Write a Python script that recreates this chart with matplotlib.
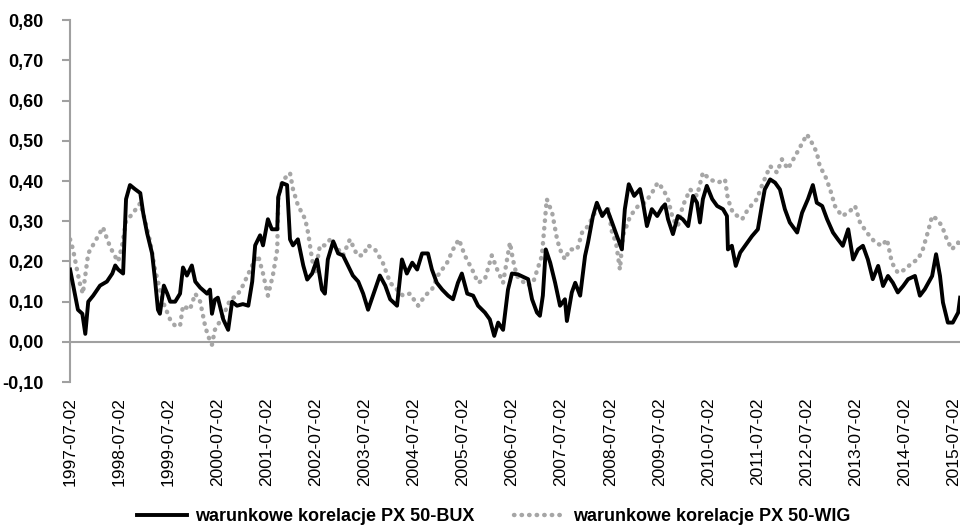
import matplotlib
matplotlib.use('Agg')
import matplotlib.pyplot as plt
from matplotlib.lines import Line2D
import numpy as np
import pandas as pd

plt.rcParams['font.family'] = ['Liberation Sans', 'DejaVu Sans']

# years elapsed since 1997-07-02
bux_t = [0.00, 0.16, 0.25, 0.31, 0.37, 0.47, 0.61, 0.75, 0.86, 0.92, 0.98, 1.08, 1.14, 1.22, 1.32,
         1.43, 1.49, 1.57, 1.67, 1.73, 1.79, 1.83, 1.91, 1.98, 2.04, 2.14, 2.24, 2.30, 2.38, 2.48,
         2.55, 2.65, 2.79, 2.85, 2.89, 2.95, 3.01, 3.12, 3.22, 3.30, 3.40, 3.52, 3.63, 3.71, 3.77,
         3.87, 3.93, 4.03, 4.11, 4.22, 4.24, 4.32, 4.42, 4.48, 4.54, 4.64, 4.75, 4.83, 4.93, 5.03,
         5.13, 5.19, 5.25, 5.36, 5.46, 5.56, 5.66, 5.76, 5.87, 5.97, 6.07, 6.21, 6.31, 6.42, 6.52,
         6.66, 6.76, 6.86, 6.97, 7.07, 7.17, 7.29, 7.37, 7.47, 7.58, 7.70, 7.80, 7.90, 7.98, 8.09,
         8.21, 8.31, 8.45, 8.55, 8.64, 8.72, 8.82, 8.92, 9.00, 9.12, 9.33, 9.41, 9.51, 9.57, 9.63,
         9.69, 9.78, 9.88, 9.98, 10.08, 10.12, 10.22, 10.29, 10.39, 10.49, 10.55, 10.65, 10.73,
         10.84, 10.94, 11.04, 11.14, 11.24, 11.30, 11.38, 11.49, 11.61, 11.67, 11.75, 11.85, 11.96,
         12.06, 12.12, 12.18, 12.28, 12.38, 12.48, 12.59, 12.69, 12.77, 12.83, 12.89, 12.97, 13.08,
         13.18, 13.30, 13.38, 13.40, 13.48, 13.56, 13.65, 13.75, 13.89, 14.01, 14.09, 14.15, 14.26,
         14.36, 14.46, 14.56, 14.66, 14.81, 14.91, 15.03, 15.13, 15.21, 15.32, 15.42, 15.54, 15.64,
         15.74, 15.85, 15.95, 16.05, 16.15, 16.25, 16.35, 16.46, 16.56, 16.66, 16.76, 16.86, 16.97,
         17.07, 17.21, 17.31, 17.41, 17.56, 17.64, 17.72, 17.78, 17.88, 17.98, 18.09, 18.13]
bux = [0.18, 0.08, 0.07, 0.02, 0.10, 0.115, 0.14, 0.15, 0.17, 0.19, 0.18, 0.17, 0.355, 0.39, 0.38,
       0.37, 0.32, 0.27, 0.22, 0.155, 0.08, 0.07, 0.14, 0.12, 0.10, 0.10, 0.12, 0.185, 0.165, 0.19,
       0.15, 0.135, 0.12, 0.13, 0.07, 0.105, 0.11, 0.056, 0.03, 0.10, 0.09, 0.094, 0.09, 0.15, 0.24,
       0.265, 0.24, 0.305, 0.28, 0.28, 0.36, 0.395, 0.39, 0.255, 0.24, 0.255, 0.19, 0.155, 0.17, 0.205,
       0.13, 0.12, 0.205, 0.25, 0.22, 0.215, 0.19, 0.165, 0.15, 0.12, 0.08, 0.13, 0.165, 0.14, 0.106,
       0.09, 0.205, 0.17, 0.197, 0.18, 0.22, 0.22, 0.18, 0.147, 0.13, 0.115, 0.106, 0.147, 0.17, 0.12,
       0.115, 0.09, 0.073, 0.056, 0.015, 0.048, 0.03, 0.13, 0.17, 0.168, 0.156, 0.106, 0.073, 0.065, 0.115,
       0.23, 0.197, 0.147, 0.09, 0.106, 0.052, 0.123, 0.147, 0.115, 0.214, 0.247, 0.313, 0.346,
       0.313, 0.33, 0.297, 0.263, 0.23, 0.33, 0.392, 0.363, 0.38, 0.346, 0.288, 0.33, 0.313,
       0.334, 0.342, 0.305, 0.268, 0.313, 0.305, 0.288, 0.363, 0.346, 0.297, 0.355, 0.388, 0.355,
       0.338, 0.33, 0.313, 0.23, 0.239, 0.189, 0.222, 0.239, 0.263, 0.28, 0.338, 0.379, 0.404,
       0.396, 0.379, 0.33, 0.297, 0.272, 0.321, 0.355, 0.39, 0.346, 0.338, 0.305, 0.272, 0.255,
       0.239, 0.28, 0.205, 0.23, 0.239, 0.205, 0.156, 0.189, 0.139, 0.164, 0.147, 0.123, 0.139,
       0.156, 0.164, 0.115, 0.131, 0.164, 0.218, 0.164, 0.098, 0.048, 0.048, 0.073, 0.11]

wig_t = [0.00, 0.06, 0.14, 0.20, 0.26, 0.37, 0.51, 0.67, 0.77, 0.88, 0.98, 1.06, 1.14, 1.28, 1.43,
         1.53, 1.63, 1.73, 1.79, 1.89, 2.04, 2.14, 2.24, 2.30, 2.44, 2.55, 2.65, 2.75, 2.81, 2.89,
         2.95, 3.12, 3.26, 3.40, 3.52, 3.71, 3.83, 3.93, 4.03, 4.13, 4.22, 4.24, 4.32, 4.48, 4.54,
         4.64, 4.79, 4.85, 4.93, 4.99, 5.09, 5.19, 5.30, 5.40, 5.56, 5.70, 5.85, 5.97, 6.07, 6.21,
         6.37, 6.52, 6.66, 6.78, 6.92, 7.09, 7.23, 7.37, 7.49, 7.68, 7.80, 7.92, 8.04, 8.19, 8.31,
         8.45, 8.59, 8.70, 8.82, 8.96, 9.02, 9.10, 9.31, 9.43, 9.61, 9.71, 9.82, 9.92, 9.98, 10.08,
         10.18, 10.33, 10.43, 10.55, 10.69, 10.79, 10.96, 11.04, 11.12, 11.20, 11.26, 11.41, 11.57,
         11.71, 11.85, 11.97, 12.08, 12.18, 12.28, 12.38, 12.48, 12.63, 12.77, 12.89, 13.03, 13.20,
         13.34, 13.40, 13.50, 13.69, 13.81, 13.99, 14.09, 14.26, 14.40, 14.50, 14.62, 14.81, 15.01,
         15.11, 15.21, 15.27, 15.38, 15.48, 15.58, 15.72, 15.85, 15.99, 16.09, 16.23, 16.40, 16.54,
         16.64, 16.74, 16.86, 17.01, 17.15, 17.27, 17.37, 17.47, 17.56, 17.66, 17.76, 17.86, 17.96,
         18.09, 18.13]
wig = [0.255, 0.23, 0.18, 0.145, 0.12, 0.22, 0.25, 0.285, 0.25, 0.22, 0.20, 0.24, 0.30, 0.32, 0.345,
       0.30, 0.25, 0.18, 0.15, 0.10, 0.055, 0.04, 0.04, 0.09, 0.08, 0.12, 0.10, 0.04, 0.015, -0.007,
       0.03, 0.065, 0.105, 0.115, 0.14, 0.19, 0.215, 0.17, 0.115, 0.165, 0.23, 0.355, 0.40, 0.42, 0.38,
       0.34, 0.305, 0.27, 0.205, 0.17, 0.24, 0.24, 0.255, 0.24, 0.215, 0.255, 0.215, 0.215, 0.24, 0.23,
       0.197, 0.147, 0.13, 0.115, 0.12, 0.09, 0.115, 0.13, 0.165, 0.197, 0.23, 0.255, 0.215, 0.18, 0.147,
       0.156, 0.215, 0.18, 0.147, 0.247, 0.205, 0.164, 0.14, 0.147, 0.214, 0.355, 0.321, 0.255, 0.23, 0.205,
       0.23, 0.23, 0.272, 0.288, 0.321, 0.321, 0.33, 0.272, 0.247, 0.18, 0.263, 0.313, 0.338,
       0.346, 0.37, 0.396, 0.38, 0.355, 0.305, 0.288, 0.338, 0.379, 0.363, 0.421, 0.404, 0.396,
       0.404, 0.355, 0.321, 0.305, 0.33, 0.355, 0.388, 0.437, 0.421, 0.454, 0.43, 0.471, 0.516,
       0.495, 0.471, 0.437, 0.413, 0.38, 0.338, 0.313, 0.321, 0.338, 0.297, 0.272, 0.247, 0.239,
       0.255, 0.197, 0.172, 0.18, 0.197, 0.205, 0.23, 0.272, 0.313, 0.305, 0.288, 0.255, 0.23,
       0.247, 0.23]

start = pd.Timestamp('1997-07-02')
tick_dates = [pd.Timestamp(f'{y}-07-02') for y in range(1997, 2016)]
labels = ['warunkowe korelacje PX 50-BUX', 'warunkowe korelacje PX 50-WIG']


def to_dates(t):
    return start + pd.to_timedelta(np.array(t) * 365.25, unit='D')


fig = plt.figure(figsize=(9.6, 5.3), dpi=100)
ax = fig.add_axes([0.073, 0.279, 0.927, 0.683])

dots = (0, (0.1, 1.6))
ax.plot(to_dates(wig_t), wig, linestyle=dots, color='#a6a6a6', lw=3.2,
        dash_capstyle='round', zorder=2)
ax.plot(to_dates(bux_t), bux, '-', color='black', lw=2.8, zorder=3)

ax.axhline(0, color='#a0a0a0', lw=1.5, zorder=1)

yt = np.arange(-0.1, 0.81, 0.1)
ax.set_ylim(-0.10, 0.80)
ax.set_yticks(yt)
ax.set_yticklabels([f'{v:.2f}'.replace('.', ',') for v in yt], fontsize=13, fontweight='bold')
ax.set_xlim(start, start + pd.Timedelta(days=int(18.13 * 365.25)))
ax.set_xticks(tick_dates)
ax.set_xticklabels([d.strftime('%Y-%m-%d') for d in tick_dates], rotation=90, fontsize=12.5)

for s in ['top', 'right', 'bottom']:
    ax.spines[s].set_visible(False)
ax.spines['left'].set_color('#a0a0a0')
ax.spines['left'].set_linewidth(1.5)
ax.tick_params(axis='y', direction='out', length=6, width=1.5, color='#a0a0a0', pad=13)
ax.tick_params(axis='x', length=0, pad=11)

handles = [Line2D([], [], color='black', lw=2.8),
           Line2D([], [], color='#a6a6a6', lw=3.2, linestyle=dots, dash_capstyle='round')]
fig.legend(handles, labels, loc='center', bbox_to_anchor=(0.514, 0.025), ncol=2,
           frameon=False, handlelength=2.8, handletextpad=0.45, columnspacing=2.2,
           prop={'size': 13, 'weight': 'bold'})

fig.savefig('out.png', dpi=100)
